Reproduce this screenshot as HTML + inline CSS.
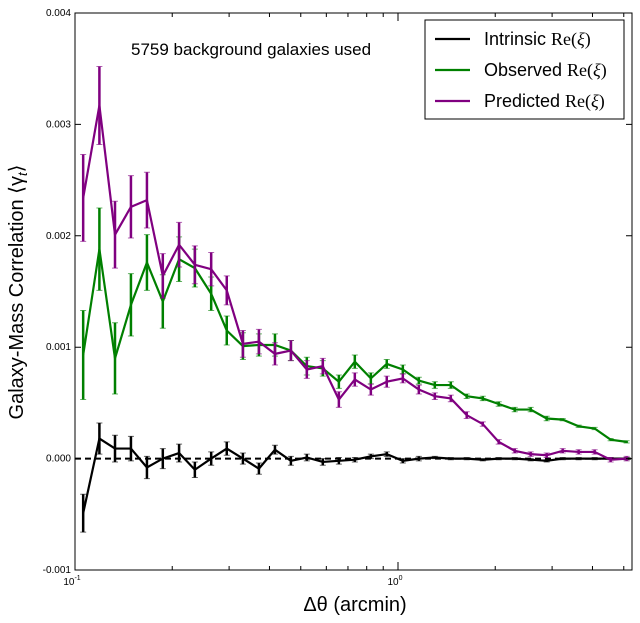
<!DOCTYPE html>
<html><head><meta charset="utf-8">
<style>
html,body{margin:0;padding:0;background:#fff;}
svg{display:block;font-family:"Liberation Sans",sans-serif;}
</style></head>
<body>
<svg id="chart" width="640" height="623"></svg>
<script>
const xValues=[0.106,0.119,0.133,0.149,0.167,0.187,0.210,0.235,0.264,0.295,0.331,0.371,0.416,0.466,0.522,0.585,0.656,0.735,0.824,0.923,1.035,1.160,1.300,1.457,1.632,1.830,2.050,2.298,2.575,2.886,3.235,3.625,4.063,4.553,5.103];
const predicted=[2.34,3.17,2.01,2.26,2.32,1.64,1.92,1.74,1.70,1.51,1.03,1.05,0.94,0.97,0.80,0.83,0.53,0.71,0.62,0.69,0.72,0.62,0.56,0.54,0.39,0.31,0.15,0.07,0.04,0.03,0.07,0.06,0.06,-0.01,0.00];
const predictedErr=[0.39,0.35,0.30,0.28,0.25,0.20,0.20,0.17,0.15,0.13,0.12,0.11,0.10,0.09,0.08,0.07,0.07,0.06,0.05,0.05,0.04,0.04,0.03,0.03,0.03,0.02,0.02,0.02,0.02,0.02,0.02,0.02,0.02,0.02,0.02];
const observed=[0.93,1.88,0.90,1.38,1.76,1.41,1.79,1.71,1.48,1.15,1.01,1.02,1.02,0.97,0.83,0.81,0.69,0.87,0.72,0.85,0.80,0.70,0.66,0.66,0.56,0.54,0.49,0.44,0.44,0.36,0.35,0.29,0.27,0.17,0.15];
const observedErr=[0.40,0.37,0.32,0.28,0.25,0.24,0.20,0.17,0.15,0.13,0.12,0.10,0.10,0.09,0.08,0.07,0.06,0.06,0.05,0.04,0.04,0.03,0.03,0.03,0.02,0.02,0.02,0.02,0.02,0.02,0.01,0.01,0.01,0.01,0.01];
const intrinsic=[-0.49,0.18,0.09,0.09,-0.08,0.00,0.05,-0.10,0.00,0.09,0.00,-0.09,0.08,-0.02,0.01,-0.03,-0.02,-0.01,0.02,0.04,-0.02,0.00,0.01,0.00,0.00,-0.01,0.00,0.00,-0.01,-0.02,0.00,0.00,0.00,0.00,0.00];
const intrinsicErr=[0.17,0.14,0.12,0.11,0.10,0.09,0.08,0.07,0.06,0.06,0.05,0.05,0.04,0.04,0.03,0.03,0.03,0.02,0.02,0.02,0.02,0.02,0.01,0.01,0.01,0.01,0.01,0.01,0.01,0.01,0.01,0.01,0.01,0.01,0.01];
const yTicks=[-1,0,1,2,3,4];
const yTickLabels=["-0.001","0.000","0.001","0.002","0.003","0.004"];

const L=75,R=632,T=13,B=570;
const xLogMin=-1, pxPerDecade=323;
function xs(v){return L+(Math.log10(v)-xLogMin)*pxPerDecade;}
function ys(v){return B-(v+1)/5*(B-T);}
const NS="http://www.w3.org/2000/svg";
const svg=document.getElementById('chart');
function mk(tag,attrs,parent){const e=document.createElementNS(NS,tag);for(const k in attrs)e.setAttribute(k,attrs[k]);(parent||svg).appendChild(e);return e;}

let z=mk('line',{x1:L,x2:R,y1:ys(0),y2:ys(0),stroke:'#000','stroke-width':2,'stroke-dasharray':'6,4'});



function series(vals,errs,color,name){
  const g=mk('g',{});
  
  
  vals.forEach((v,i)=>{
    const x=xs(xValues[i]);
    const e=mk('path',{d:`M${x},${ys(v-errs[i])}V${ys(v+errs[i])}`,stroke:color,'stroke-width':2.5,fill:'none'},g);
    
    
    mk('path',{d:`M${x-3},${ys(v-errs[i])}H${x+3}M${x-3},${ys(v+errs[i])}H${x+3}`,stroke:color,'stroke-width':1,'stroke-opacity':0.6,fill:'none'},g);
  });
  const p=mk('polyline',{points:vals.map((v,i)=>xs(xValues[i])+','+ys(v)).join(' '),fill:'none',stroke:color,'stroke-width':2.2,'stroke-linejoin':'miter'},g);
  
  
}
series(intrinsic,intrinsicErr,'#000','intrinsic');
series(observed,observedErr,'#008000','observed');
series(predicted,predictedErr,'#800080','predicted');

let fr=mk('rect',{x:L,y:T,width:R-L,height:B-T,fill:'none',stroke:'#000','stroke-width':1});



yTicks.forEach((t,i)=>{
  const y=ys(t);
  mk('path',{d:`M${L},${y}H${L+6}M${R},${y}H${R-6}`,stroke:'#000','stroke-width':1});
  const tx=mk('text',{x:L-4,y:y+3,'font-size':10,'text-anchor':'end'});
  tx.textContent=yTickLabels[i];
  
  
});
for(let d=-1;d<=0;d++){
  for(let m=1;m<10;m++){
    const v=m*Math.pow(10,d);const x=xs(v);if(x>R)break;
    const len=m===1?8:4;
    mk('path',{d:`M${x},${B}V${B-len}M${x},${T}V${T+len}`,stroke:'#000','stroke-width':1});
  }
}
[[0.1,'10','-1'],[1,'10','0']].forEach(([v,b,e])=>{
  const tx=mk('text',{x:xs(v)-3,y:B+15,'font-size':10,'text-anchor':'middle'});
  tx.innerHTML=b+'<tspan dy="-5" font-size="7">'+e+'</tspan>';
  
  
});

let xl=mk('text',{x:355,y:611,'font-size':20,'text-anchor':'middle'});
xl.textContent='Δθ (arcmin)';


let yl=mk('text',{x:23,y:292,'font-size':20,'text-anchor':'middle',transform:'rotate(-90 23 292)'});
yl.innerHTML='Galaxy-Mass Correlation ⟨γ<tspan font-style="italic" font-size="13" dy="4">t</tspan><tspan dy="-4">⟩</tspan>';


let an=mk('text',{x:131,y:55,'font-size':17});
an.textContent='5759 background galaxies used';



const lg=mk('g',{});


mk('rect',{x:425,y:20,width:199,height:99,fill:'#fff',stroke:'#000','stroke-width':1},lg);
[['#000','Intrinsic'],['#008000','Observed'],['#800080','Predicted']].forEach(([c,n],i)=>{
  const y=39+i*31;
  const en=mk('g',{},lg);
  
  
  mk('line',{x1:435,x2:470,y1:y,y2:y,stroke:c,'stroke-width':2.2},en);
  const t=mk('text',{x:484,y:y+6,'font-size':18},en);
  t.innerHTML=n+' <tspan font-family="Liberation Serif,serif">Re(<tspan font-style="italic">ξ</tspan>)</tspan>';
});
</script>
</body></html>
